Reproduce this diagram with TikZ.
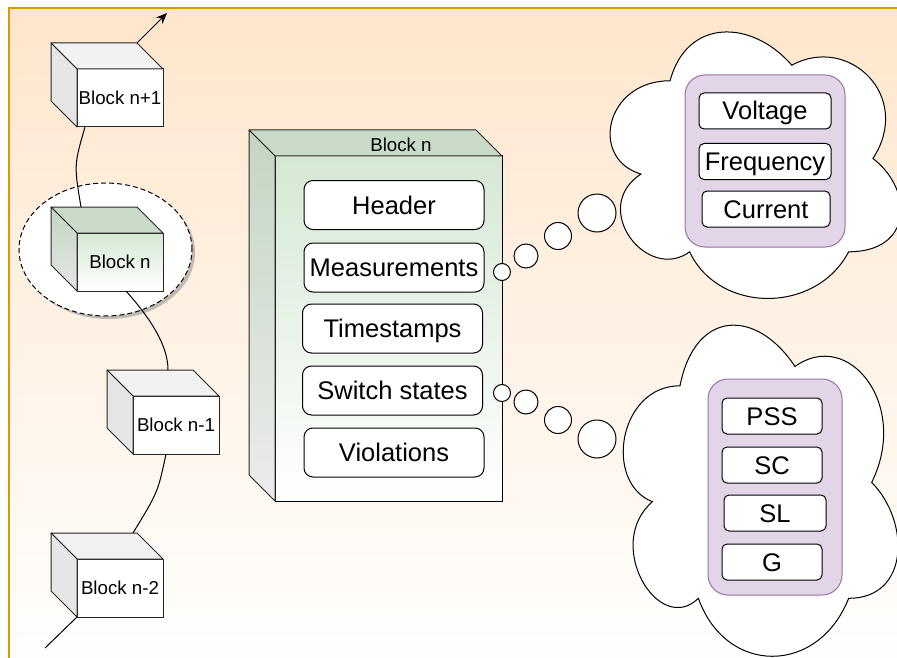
\documentclass[tikz,border=0pt]{standalone}
\usepackage{fontspec}
\setmainfont{Liberation Sans}
\usetikzlibrary{shapes.geometric,arrows.meta,calc}

\definecolor{bgtop}{HTML}{FFE6CC}
\definecolor{bgline}{HTML}{D79B00}
\definecolor{grnfront}{HTML}{D5E8D4}
\definecolor{grntop}{HTML}{C9DBC8}
\definecolor{grnside}{HTML}{C3D6C2}
\definecolor{grytop}{HTML}{F2F2F2}
\definecolor{gryside}{HTML}{E6E6E6}
\definecolor{purfill}{HTML}{E1D5E7}
\definecolor{purline}{HTML}{9673A6}

\newcommand\smalltxt{\fontsize{18.7}{22}\selectfont}
\newcommand\bigtxt{\fontsize{25.5}{30}\selectfont}

% top and left faces of a cube whose front face is node #1
\newcommand\cubesides[4]{%
  \path[cubeface,#3] (#1.north west) -- ++(-#2,-#2)
    -- ([shift={(-#2,-#2)}]#1.north east) -- (#1.north east) -- cycle;
  \path[cubeface,#4] (#1.north west) -- ++(-#2,-#2)
    -- ([shift={(-#2,-#2)}]#1.south west) -- (#1.south west) -- cycle;
}

% draw.io style cloud outline in a box (x0,y0) of size w x h
\newcommand\cloudshape[4]{%
  \begin{scope}[shift={(#1,#2)}, x=#3pt, y=-#4pt]
    \path[cloudline] (0.25,0.25) .. controls (0.05,0.25) and (0,0.5) .. (0.16,0.55)
      .. controls (0,0.66) and (0.18,0.9) .. (0.31,0.8)
      .. controls (0.4,1) and (0.7,1) .. (0.8,0.8)
      .. controls (1,0.8) and (1,0.6) .. (0.875,0.5)
      .. controls (1,0.3) and (0.8,0.1) .. (0.625,0.2)
      .. controls (0.5,0.05) and (0.3,0.05) .. (0.25,0.25) -- cycle;
  \end{scope}%
}

\begin{document}
\begin{tikzpicture}[x=1pt, y=-1pt,
  cubefront/.style={draw=black!85, line width=1pt, minimum width=86pt,
    minimum height=58pt, inner sep=0pt, outer sep=0pt, font=\smalltxt,
    text height=13.4pt, text depth=0pt},
  cubeface/.style={draw=black!85, line width=1pt, line join=round},
  fieldbox/.style={draw, line width=1pt, fill=white, rounded corners=9pt,
    minimum width=180pt, minimum height=49pt, inner sep=0pt, font=\bigtxt,
    text height=18pt, text depth=0pt},
  itembox/.style={draw, line width=1pt, fill=white, rounded corners=5pt,
    minimum height=36pt, inner sep=0pt, font=\bigtxt,
    text height=18pt, text depth=0pt},
  group/.style={draw=purline, line width=1pt, fill=purfill, rounded corners=20pt,
    inner sep=0pt},
  cloudline/.style={draw, line width=1pt, fill=white},
  bubble/.style={circle, draw, line width=1pt, fill=white, inner sep=0pt},
  link/.style={draw, line width=1pt}
]
\useasboundingbox (0,0) rectangle (897,658);
\clip (0,0) rectangle (897,658);

% page background
\path[draw=bgline, line width=1.5pt, top color=bgtop, bottom color=white]
  (9,8) rectangle (915,676);

% thought clouds
\cloudshape{589}{3}{324.5}{311}
\cloudshape{603.3}{289.2}{306.7}{386.4}

% measurement quantities
\node[group, minimum width=160pt, minimum height=172pt] (meas) at (765,161) {};
\node[itembox, minimum width=132pt] (volt) at (765,111) {Voltage};
\node[itembox, minimum width=132pt] (freq) at (765,161.5) {Frequency};
\node[itembox, minimum width=128pt] (curr) at (766,209) {Current};

% switch state groups
\node[group, minimum width=134pt, minimum height=216pt] (sw) at (775,487) {};
\node[itembox, minimum width=100pt] (pss) at (772,416) {PSS};
\node[itembox, minimum width=100pt] (sc) at (772,465) {SC};
\node[itembox, minimum width=102pt] (sl) at (775,513) {SL};
\node[itembox, minimum width=100pt] (g) at (772,562) {G};

% highlight around the current block
\node[ellipse, fill=black!45, opacity=0.55, minimum width=173pt, minimum height=133pt]
  (selshadow) at (108.5,252.5) {};
\node[ellipse, draw, dashed, dash pattern=on 5pt off 3pt, line width=1pt, fill=white,
  minimum width=173pt, minimum height=133pt] (sel) at (105.5,249.5) {};

% chain of blocks
\node[cubefront, fill=white] (b1) at (120,98) {Block n+1};
\cubesides{b1}{26}{fill=grytop}{fill=gryside}

\node[cubefront, top color=grnfront, bottom color=white] (b0) at (120,262) {Block n};
\cubesides{b0}{26}{fill=grntop}{top color=grnside, bottom color=gray!20}

\node[cubefront, fill=white] (bm1) at (176,425) {Block n-1};
\cubesides{bm1}{26}{fill=grytop}{fill=gryside}

\node[cubefront, fill=white] (bm2) at (120,588) {Block n-2};
\cubesides{bm2}{26}{fill=grytop}{fill=gryside}

% links of the chain
\coordinate (a0) at ([shift={(-26,-26)}]b1.north east);
\coordinate (a1) at (167,13);
\coordinate (c1) at ([xshift=8pt]b1.south west);
\coordinate (c2) at ([shift={(4,-26)}]b0.north west);
\coordinate (c3) at ([xshift=49pt]b0.south west);
\coordinate (c4) at ([shift={(35,-26)}]bm1.north west);
\coordinate (c5) at ([xshift=33pt]bm1.south west);
\coordinate (c6) at ([shift={(56,-26)}]bm2.north west);
\coordinate (tail) at (45,648);

\draw[link, -{Stealth[length=11pt, width=9pt]}] (a0) -- (a1);
\draw[link] (c1) .. controls (74,165) .. (c2);
\draw[link] (c3) .. controls (150,318) and (168,345) .. (c4);
\draw[link] (c5) .. controls (158,492) .. (c6);
\draw[link] (bm2.south west) -- (tail);

% expanded block
\node[draw, line width=1pt, minimum width=227pt, minimum height=345pt, inner sep=0pt,
  outer sep=0pt, top color=grnfront, bottom color=white] (big) at (388.5,328.5) {};
\cubesides{big}{26}{fill=grntop}{top color=grnside, bottom color=gray!15}
\node[font=\smalltxt, text height=13.4pt, text depth=0pt, inner sep=0pt]
  (bigtitle) at (401,145) {Block n};

\node[fieldbox] (hdr) at (394,205) {Header};
\node[fieldbox] (msr) at (394,267.5) {Measurements};
\node[fieldbox] (ts) at (392.5,328.5) {Timestamps};
\node[fieldbox] (sws) at (392.5,390.5) {Switch states};
\node[fieldbox] (vio) at (394,452.5) {Violations};

% thought bubbles
\node[bubble, minimum size=17pt] (u1) at (502,272) {};
\node[bubble, minimum size=24pt] (u2) at (526,256) {};
\node[bubble, minimum size=27pt] (u3) at (558,236) {};
\node[bubble, minimum size=38pt] (u4) at (597,213) {};

\node[bubble, minimum size=17pt] (l1) at (502,393) {};
\node[bubble, minimum size=24pt] (l2) at (526,402) {};
\node[bubble, minimum size=27pt] (l3) at (558,420) {};
\node[bubble, minimum size=38pt] (l4) at (597,439) {};
\end{tikzpicture}
\end{document}
